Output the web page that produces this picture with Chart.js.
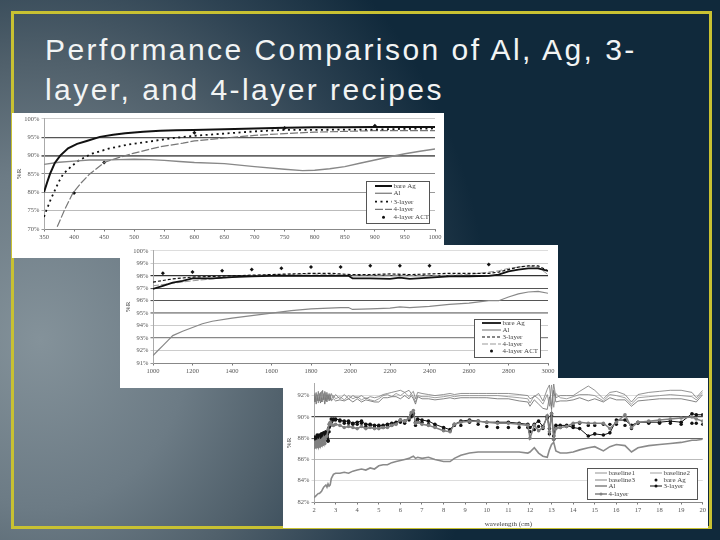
<!DOCTYPE html>
<html><head><meta charset="utf-8">
<script src="https://cdn.jsdelivr.net/npm/chart.js@4"></script>
<style>
html,body{margin:0;padding:0;width:720px;height:540px;overflow:hidden}
body{position:relative;background:radial-gradient(ellipse 500px 560px at 40px 340px,#84929a 0%,#6c7b85 30%,#50606b 50%,#2d4252 70%,#10293b 90%),#10293b}
#frame{position:absolute;left:11px;top:11px;width:695px;height:512px;border:3px solid #c8c132}
#title{position:absolute;left:45px;top:30px;width:660px;color:#f2f4f4;font:30px/40px "Liberation Sans",sans-serif;letter-spacing:2.45px}
.p{position:absolute;background:#fff}
canvas{display:block;filter:blur(.45px)}
</style></head><body>
<div id="frame"></div>
<div id="title">Performance Comparison of Al, Ag, 3-<br>layer, and 4-layer recipes</div>
<div class="p" style="left:12px;top:113px;width:432px;height:145px"><canvas id="c1" width="432" height="145"></canvas></div>
<div class="p" style="left:120px;top:245px;width:438px;height:143px"><canvas id="c2" width="438" height="143"></canvas></div>
<div class="p" style="left:283px;top:378px;width:425px;height:150px"><canvas id="c3" width="425" height="150"></canvas></div>
<script>
// ---- Chart 1: 350-1000
const yTicks1=[70,75,80,85,90,95,100];
const xTicks1=[350,400,450,500,550,600,650,700,750,800,850,900,950,1000];
const x1Ag=[350,355,360,368,377,390,405,421,443,465,485,515,543,570,598,650,700,750,800,850,900,950,1000];
const ag1=[80,82.6,85,88,90,92,93.2,94,95.1,95.7,96.1,96.5,96.8,96.9,97,97.2,97.4,97.6,97.7,97.7,97.8,97.8,97.8];
const x1Al=[350,375,400,425,450,475,500,525,550,575,600,650,700,750,780,800,825,850,875,900,925,950,975,1000];
const al1=[87.6,88.2,88.5,88.8,88.8,88.9,89,88.9,88.7,88.4,88.1,87.8,87,86.3,85.9,86,86.4,87,87.9,88.8,89.7,90.5,91.2,91.8];
const x1L3=[350,354,361,368,375,382,395,407,429,460,490,515,545,571,600,650,700,750,800,850,900,950,1000];
const l31=[73.3,75.1,78,80.5,83,85,87,88.6,90.5,92,93,93.6,94.3,94.9,95.4,96,96.6,97,97,97.1,97.1,97.3,97.4];
const x1L4=[372,385,398,412,426,451,475,498,520,543,581,600,650,700,750,800,850,900,950,1000];
const l41=[70.6,75.5,79.8,82.6,85,88.2,89.5,90.6,91.5,92.4,93.4,94,94.8,95.5,96,96.4,96.6,96.8,96.8,96.8];
const x1Act=[400,450,600,750,900];
const act1=[79.8,88.1,96.2,97.5,98.1];
// ---- Chart 2: 1000-3000
const yTicks2=[91,92,93,94,95,96,97,98,99,100];
const xTicks2=[1000,1200,1400,1600,1800,2000,2200,2400,2600,2800,3000];
const x2Ag=[1000,1050,1100,1150,1200,1300,1400,1500,1600,1700,1800,1900,1990,2010,2100,2200,2250,2300,2400,2500,2600,2700,2750,2800,2850,2900,2950,3000];
const ag2=[96.95,97.2,97.45,97.6,97.8,97.8,97.9,97.95,98,98,98,98,98,97.8,97.8,97.75,97.85,97.75,97.85,97.95,97.95,98,98.1,98.35,98.5,98.6,98.6,98.4];
const x2Al=[1000,1025,1050,1075,1100,1150,1200,1250,1300,1400,1500,1600,1700,1800,1950,1990,2010,2100,2200,2250,2300,2400,2500,2600,2700,2750,2800,2850,2900,2950,3000];
const al2=[91.6,92,92.4,92.8,93.2,93.55,93.85,94.15,94.35,94.6,94.8,95,95.2,95.35,95.45,95.45,95.3,95.35,95.4,95.5,95.45,95.55,95.7,95.8,96,96,96.3,96.55,96.7,96.75,96.6];
const x2L3=[1000,1100,1200,1300,1400,1500,1600,1700,1800,1900,2000,2100,2200,2300,2400,2500,2600,2700,2750,2800,2850,2900,2950,3000];
const l32=[97.5,97.75,97.9,97.95,98,98.05,98.1,98.15,98.2,98.2,98.1,98.1,98.15,98.1,98.15,98.2,98.2,98.2,98.3,98.5,98.7,98.8,98.8,98.4];
const x2L4=[1000,1100,1200,1300,1400,1500,1600,1700,1800,2000,2200,2400,2500,2600,2700,2750,2800,2900,2950,3000];
const l42=[97.2,97.4,97.6,97.75,97.9,98,98.1,98.1,98.15,98.05,98.05,98,98.05,98.1,98.3,98.4,98.6,98.8,98.7,98.1];
const x2Act=[1050,1200,1350,1500,1650,1800,1950,2100,2250,2400,2700];
const act2=[98.2,98.3,98.4,98.5,98.6,98.7,98.7,98.8,98.8,98.8,98.9];
// ---- Chart 3: 2-20
const yTicks3=[82,84,86,88,90,92];
const xTicks3=[2,3,4,5,6,7,8,9,10,11,12,13,14,15,16,17,18,19,20];
const x3=[2.00,2.05,2.10,2.15,2.20,2.25,2.30,2.35,2.40,2.45,2.50,2.55,2.60,2.65,2.70,2.75,2.80,2.90,3.00,
3.2,3.4,3.6,3.8,4.0,4.2,4.4,4.6,4.8,5.0,5.2,5.4,5.6,5.8,6.0,6.2,6.4,6.5,6.6,6.7,6.8,
7.0,7.3,7.6,8.0,8.3,8.5,8.8,9.2,9.6,10,10.5,11,11.5,11.9,
12.0,12.2,12.4,12.6,12.8,12.9,13.0,13.1,13.2,13.4,
13.7,14,14.3,14.7,15,15.4,15.7,16,16.4,16.7,17,17.5,18,18.5,19,19.5,19.7,20];
const base1=[92.2,91.4,92.3,91.5,92.4,91.5,92.3,91.4,92.5,91.6,92.4,91.5,92.3,91.7,92.2,91.6,92.2,91.8,92.1,
91.7,92.1,91.7,92.0,91.8,92.0,91.7,91.9,91.8,91.9,92.1,92.2,92.3,92.4,92.5,92.3,92.5,92.2,92.4,91.7,92.3,
92.2,92.1,92.0,92.1,92.2,92.1,92.2,92.2,92.2,92.2,92.2,92.2,92.1,92.0,
91.7,91.9,92.2,91.5,92.6,93.0,91.0,93.1,91.8,92.0,
92.0,92.0,92.4,92.9,92.5,91.7,92.3,92.4,92.1,91.4,92.1,92.3,92.4,92.5,92.5,92.3,91.8,92.5];
const base2=[91.7,92.2,91.4,92.1,91.3,92.2,91.4,92.4,91.4,92.2,91.6,92.3,91.6,92.1,91.6,92.1,91.6,92.0,91.7,
91.9,91.6,92.0,91.7,91.9,91.6,91.8,91.6,91.5,91.7,92.0,92.1,91.9,92.2,92.0,92.3,91.9,92.2,91.9,91.4,92.0,
91.9,91.9,91.8,91.9,92.0,91.9,92.0,92.0,92.0,92.0,92.0,91.9,91.8,91.7,
91.3,92.0,91.7,91.2,92.1,91.0,93.0,90.9,92.2,91.8,
91.7,91.9,92.1,92.1,92.0,91.5,92.1,92.0,91.8,91.2,91.8,91.9,92.0,92.1,92.0,91.9,91.6,92.3];
const base3=[91.4,91.9,91.2,91.8,91.5,91.9,91.3,91.8,91.6,91.9,91.2,91.8,91.4,91.9,91.5,91.8,91.5,91.7,91.5,
91.6,91.5,91.7,91.4,91.7,91.4,91.6,91.5,91.4,91.4,91.8,91.8,91.9,91.9,91.7,92.0,91.7,92.0,91.7,91.2,91.9,
91.7,91.7,91.6,91.7,91.8,91.7,91.8,91.8,91.8,91.8,91.7,91.7,91.5,91.4,
91.0,91.6,91.2,90.8,90.7,91.9,90.7,92.5,91.4,91.5,
91.5,91.6,91.8,91.5,91.7,91.4,91.8,91.6,91.6,91.0,91.5,91.6,91.7,91.7,91.7,91.5,91.4,92.1];
const al3=[82.4,82.5,82.6,82.7,82.8,82.8,82.9,83.0,83.2,83.4,83.5,83.6,83.4,83.7,83.5,83.6,84.2,84.6,84.7,
84.7,84.8,84.7,84.9,85.0,85.1,85.0,85.2,85.1,85.4,85.5,85.5,85.7,85.8,85.9,86.0,86.1,86.2,86.3,86.1,86.2,
86.1,86.2,86.0,85.8,85.8,86.1,86.4,86.6,86.7,86.7,86.7,86.7,86.7,86.6,
86.7,87.1,86.6,86.3,86.2,86.9,87.4,87.6,86.8,86.6,
86.6,86.7,86.9,87.1,87.2,86.8,87.2,87.4,87.3,86.7,87.1,87.3,87.4,87.5,87.6,87.8,87.8,87.9];
const ag3=[87.9,88.0,87.8,88.1,87.9,88.1,87.9,88.2,88.0,88.3,88.0,88.3,88.1,87.7,88.6,89.2,89.5,89.7,89.7,
89.6,89.4,89.4,89.3,89.3,89.4,89.1,89.2,89.0,89.1,89.0,89.2,89.2,89.4,89.5,89.4,89.7,90.0,90.3,89.2,89.6,
89.5,89.3,89.1,88.8,88.7,89.2,89.2,89.5,89.3,89.1,89.0,89.0,89.0,89.0,
88.6,88.8,89.1,88.9,89.9,88.4,90.1,87.9,89.0,89.0,
89.1,89.2,89.4,89.2,89.2,89.3,89.3,89.3,89.2,88.9,89.4,89.4,89.4,89.4,89.3,89.4,89.4,89.3];
const l33=[87.7,88.1,87.8,88.3,87.9,88.3,87.9,88.4,88.0,88.5,88.1,88.6,88.2,87.8,89.0,89.4,89.8,89.8,89.8,
89.7,89.6,89.6,89.4,89.5,89.6,89.3,89.3,89.2,89.2,89.2,89.3,89.4,89.5,89.7,89.6,89.9,90.2,90.3,89.5,89.8,
89.7,89.6,89.3,89.0,88.8,89.3,89.6,89.7,89.6,89.5,89.5,89.5,89.4,89.3,
89.0,89.3,89.6,89.1,90.0,88.9,90.3,88.2,89.2,89.2,
89.2,89.0,88.9,88.2,88.4,88.3,88.5,89.7,89.7,89.2,89.5,89.5,89.5,89.6,89.5,90.3,90.2,90.2];
const l43=[87.1,87.6,87.2,87.7,87.2,87.8,87.3,87.8,87.4,88.0,87.5,88.1,88.2,88.8,89.3,89.5,89.3,89.2,89.3,
89.2,89.0,89.1,89.0,88.9,89.1,88.9,89.0,88.9,88.9,89.0,89.0,89.2,89.3,89.7,89.6,89.9,90.4,90.6,89.4,89.5,
89.3,89.2,89.0,88.7,88.6,89.3,89.5,89.6,89.6,89.5,89.4,89.4,89.3,89.2,
88.0,89.2,88.7,89.0,90.1,88.6,90.3,87.9,88.9,89.0,
89.1,89.4,89.5,89.4,89.4,89.4,88.9,89.5,90.2,89.0,89.5,89.6,89.7,89.8,89.9,90.0,89.8,89.6];

const SERIF='"Liberation Serif",serif';
const pts=(xs,ys)=>xs.map((x,i)=>({x,y:ys[i]}));
const line=(label,xs,ys,color,width,dash,extra)=>Object.assign({label,data:pts(xs,ys),borderColor:color,backgroundColor:color,borderWidth:width,borderDash:dash||[],pointRadius:0,tension:0},extra||{});
const marks=(label,xs,ys)=>({label,data:pts(xs,ys),showLine:false,borderColor:'#111',backgroundColor:'#111',pointStyle:'rectRot',pointRadius:2,pointBorderWidth:0,borderWidth:0});

const legendBox={id:'legendBox',afterDraw(chart,args,o){
  const c=chart.ctx;c.save();
  c.fillStyle='#fff';c.strokeStyle='#555';c.lineWidth=1;
  c.fillRect(o.x,o.y,o.w,o.h);c.strokeRect(o.x+.5,o.y+.5,o.w,o.h);
  c.font='7px '+SERIF;c.textBaseline='middle';
  o.items.forEach(it=>{
    const d=chart.data.datasets[it.i];
    const mid=(it.x0+it.x1)/2;
    if(d.showLine!==false){
      c.beginPath();c.setLineDash(d.borderDash||[]);c.strokeStyle=d.borderColor;c.lineWidth=d.borderWidth;
      c.moveTo(it.x0,it.y);c.lineTo(it.x1,it.y);c.stroke();c.setLineDash([]);
    }
    if(d.showLine===false||d.legendMark){
      c.fillStyle=d.borderColor;c.beginPath();c.arc(mid,it.y,1.5,0,7);c.fill();
    }
    c.fillStyle='#444';c.fillText(d.label,it.x1+1.5,it.y);
  });
  c.restore();
}};

function make(id,cfg){
  new Chart(document.getElementById(id),{
    type:'line',
    data:{datasets:cfg.datasets},
    plugins:[legendBox],
    options:{
      responsive:false,animation:false,devicePixelRatio:1,
      layout:{padding:{left:cfg.pad.l,top:cfg.pad.t,right:cfg.pad.r,bottom:0}},
      plugins:{legend:{display:false},title:{display:false},tooltip:{enabled:false},legendBox:cfg.legend},
      scales:{
        x:{type:'linear',min:cfg.xTicks[0],max:cfg.xTicks[cfg.xTicks.length-1],
          afterBuildTicks:s=>{s.ticks=cfg.xTicks.map(value=>({value}))},
          afterFit:s=>{s.height=cfg.pad.xh},
          grid:{drawOnChartArea:false,tickLength:2.5,color:'#777'},border:{color:'#888'},
          title:cfg.xTitle?{display:true,text:cfg.xTitle,font:{family:SERIF,size:7},color:'#444',padding:{top:2,bottom:0}}:{display:false},
          ticks:{font:{family:SERIF,size:6.5},color:'#555',padding:2,maxRotation:0,autoSkip:false,callback:v=>String(v)}},
        y:{min:cfg.yMin,max:cfg.yMax,
          afterBuildTicks:s=>{s.ticks=cfg.yTicks.map(value=>({value}))},
          afterFit:s=>{s.width=cfg.pad.yw},
          grid:{color:c=>cfg.grid[c.tick.value]?cfg.grid[c.tick.value][0]:'#ccc',lineWidth:c=>cfg.grid[c.tick.value]?cfg.grid[c.tick.value][1]:1,tickLength:2.5},border:{color:'#aaa'},
          title:{display:true,text:'%R',font:{family:SERIF,size:7},color:'#444',padding:{top:0,bottom:2}},
          ticks:{font:{family:SERIF,size:6.5},color:'#555',padding:2,autoSkip:false,callback:v=>v+'%'}}
      }
    }
  });
}

make('c1',{
  pad:{l:3,t:5,r:9,yw:29,xh:29},xTicks:xTicks1,yTicks:yTicks1,yMin:70,yMax:100,
  grid:{100:['#ccc',1],95:['#555',1.2],90:['#666',1.8],85:['#888',1],80:['#999',1],75:['#bbb',1],70:['#999',1]},
  datasets:[
    line('bare Ag',x1Ag,ag1,'#111',2),
    line('Al',x1Al,al1,'#888',1.4),
    line('3-layer',x1L3,l31,'#111',1.8,[2,3.5]),
    line('4-layer',x1L4,l41,'#777',1.2,[8,2]),
    marks('4-layer ACT',x1Act,act1)],
  legend:{x:354,y:68,w:63,h:42,items:[
    {i:0,x0:363,x1:380,y:73},{i:1,x0:363,x1:380,y:80.3},{i:2,x0:363,x1:380,y:88.7},{i:3,x0:363,x1:380,y:96.3},{i:4,x0:363,x1:380,y:104.3}]}
});
make('c2',{
  pad:{l:4,t:5,r:10,yw:29,xh:25},xTicks:xTicks2,yTicks:yTicks2,yMin:91,yMax:100,
  grid:{100:['#ddd',1],99:['#ccc',1],98:['#333',1.2],97:['#555',1.1],96:['#555',1.1],95:['#999',1.8],94:['#ccc',1],93:['#888',1.3],92:['#ccc',1],91:['#999',1]},
  datasets:[
    line('bare Ag',x2Ag,ag2,'#111',1.8),
    line('Al',x2Al,al2,'#888',1.2),
    line('3-layer',x2L3,l32,'#111',1.2,[3,2]),
    line('4-layer',x2L4,l42,'#999',1,[6,2]),
    marks('4-layer ACT',x2Act,act2)],
  legend:{x:354,y:74,w:66,h:38,items:[
    {i:0,x0:362,x1:381,y:78},{i:1,x0:362,x1:381,y:85},{i:2,x0:362,x1:381,y:92},{i:3,x0:362,x1:381,y:99},{i:4,x0:362,x1:381,y:106}]}
});
make('c3',{
  pad:{l:2,t:3,r:5,yw:29,xh:26},xTicks:xTicks3,yTicks:yTicks3,yMin:82,yMax:93.1,xTitle:'wavelength (cm)',
  grid:{92:['#ddd',1],90:['#444',1.2],88:['#666',1.1],86:['#bbb',1],84:['#ddd',1],82:['#999',1]},
  datasets:[
    line('baseline1',x3,base1,'#777',.8,[],{order:5}),
    line('baseline2',x3,base2,'#888',.8,[],{order:5}),
    line('baseline3',x3,base3,'#666',.8,[],{order:5}),
    line('Al',x3,al3,'#8a8a8a',1.6,[],{order:4}),
    {label:'bare Ag',data:pts(x3,ag3),showLine:false,borderColor:'#111',backgroundColor:'#111',pointRadius:1.7,pointBorderWidth:0,borderWidth:0,order:3},
    line('3-layer',x3,l33,'#111',1,[],{pointRadius:1.8,pointBorderWidth:0,legendMark:true,order:2}),
    line('4-layer',x3,l43,'#808080',1.5,[],{pointRadius:1.8,pointBorderWidth:0,legendMark:true,order:1})],
  legend:{x:304,y:90,w:110,h:31,items:[
    {i:0,x0:312,x1:324,y:95},{i:1,x0:367,x1:379,y:95},
    {i:2,x0:312,x1:324,y:102},{i:4,x0:367,x1:379,y:102},
    {i:3,x0:312,x1:324,y:108},{i:5,x0:367,x1:379,y:108},
    {i:6,x0:312,x1:324,y:116}]}
});
</script>
</body></html>
